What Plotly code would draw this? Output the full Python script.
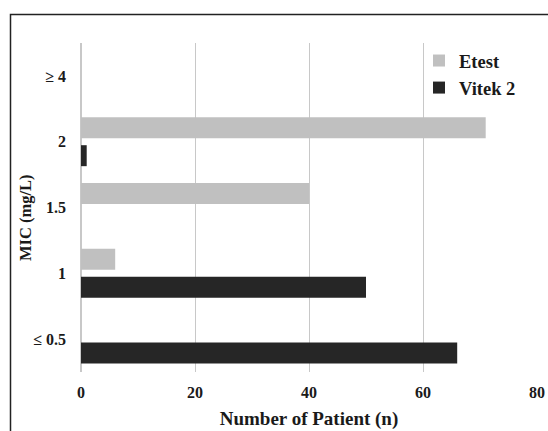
import plotly.graph_objects as go

categories = ["≤ 0.5", "1", "1.5", "2", "≥ 4"]
etest = [0, 6, 40, 71, 0]
vitek2 = [66, 50, 0, 1, 0]
x_ticks = [0, 20, 40, 60, 80]

W, H = 548, 431
ML, MR, MT, MB = 81, 11, 43, 59
serif = "Liberation Serif, Times New Roman, serif"

fig = go.Figure()
fig.add_trace(go.Bar(y=categories, x=vitek2, orientation="h", name="Vitek 2",
                     marker=dict(color="#262626", line=dict(width=0))))
fig.add_trace(go.Bar(y=categories, x=etest, orientation="h", name="Etest",
                     marker=dict(color="#c0c0c0", line=dict(width=0))))

pw = W - ML - MR
ph = H - MT - MB
# outer frame (runs past the window on the right and bottom)
fig.add_shape(type="rect", xref="paper", yref="paper",
              x0=(10.5 - ML) / pw, x1=(W + 10 - ML) / pw,
              y0=-(MB + 10) / ph, y1=(H - 14.5 - MB) / ph,
              line=dict(color="#222222", width=1.5), fillcolor="rgba(0,0,0,0)", layer="below")

# y-axis title (placed as annotation to match its slightly lowered position)
fig.add_annotation(text="MIC (mg/L)", textangle=-90, showarrow=False,
                   xref="paper", yref="paper",
                   x=(25 - ML) / pw, y=(H - 218 - MB) / ph,
                   xanchor="center", yanchor="middle",
                   font=dict(family=serif, size=16.5, weight="bold", color="#1a1a1a"))

fig.update_layout(
    width=W, height=H,
    margin=dict(l=ML, r=MR, t=MT, b=MB, autoexpand=False),
    paper_bgcolor="white", plot_bgcolor="white",
    barmode="group", bargap=0.15, bargroupgap=0.25,
    font=dict(family=serif, color="#1a1a1a", size=16),
    showlegend=True,
    legend=dict(traceorder="reversed", x=(521 - ML) / pw, y=(H - 42 - MB) / ph,
                xanchor="right", yanchor="top", bgcolor="rgba(0,0,0,0)",
                font=dict(family=serif, size=18.5, weight="bold"),
                itemwidth=30, tracegroupgap=0),
    xaxis=dict(range=[0, 80], tickvals=x_ticks, showgrid=True, gridcolor="#c8c8c8",
               gridwidth=1, zeroline=True, zerolinecolor="#c8c8c8", showline=False,
               automargin=False, ticks="", ticklabelstandoff=9,
               tickfont=dict(family=serif, size=16, weight="bold"),
               title=dict(text="Number of Patient (n)", standoff=11,
                          font=dict(family=serif, size=19, weight="bold"))),
    yaxis=dict(categoryorder="array", categoryarray=categories, showgrid=False,
               showline=False, automargin=False, ticks="", ticklabelstandoff=14,
               tickfont=dict(family=serif, size=16, weight="bold")),
)

fig.write_html(
    "out.html",
    config={"displayModeBar": False},
    post_script="document.body.style.margin='0';document.body.style.overflow='hidden';",
)
